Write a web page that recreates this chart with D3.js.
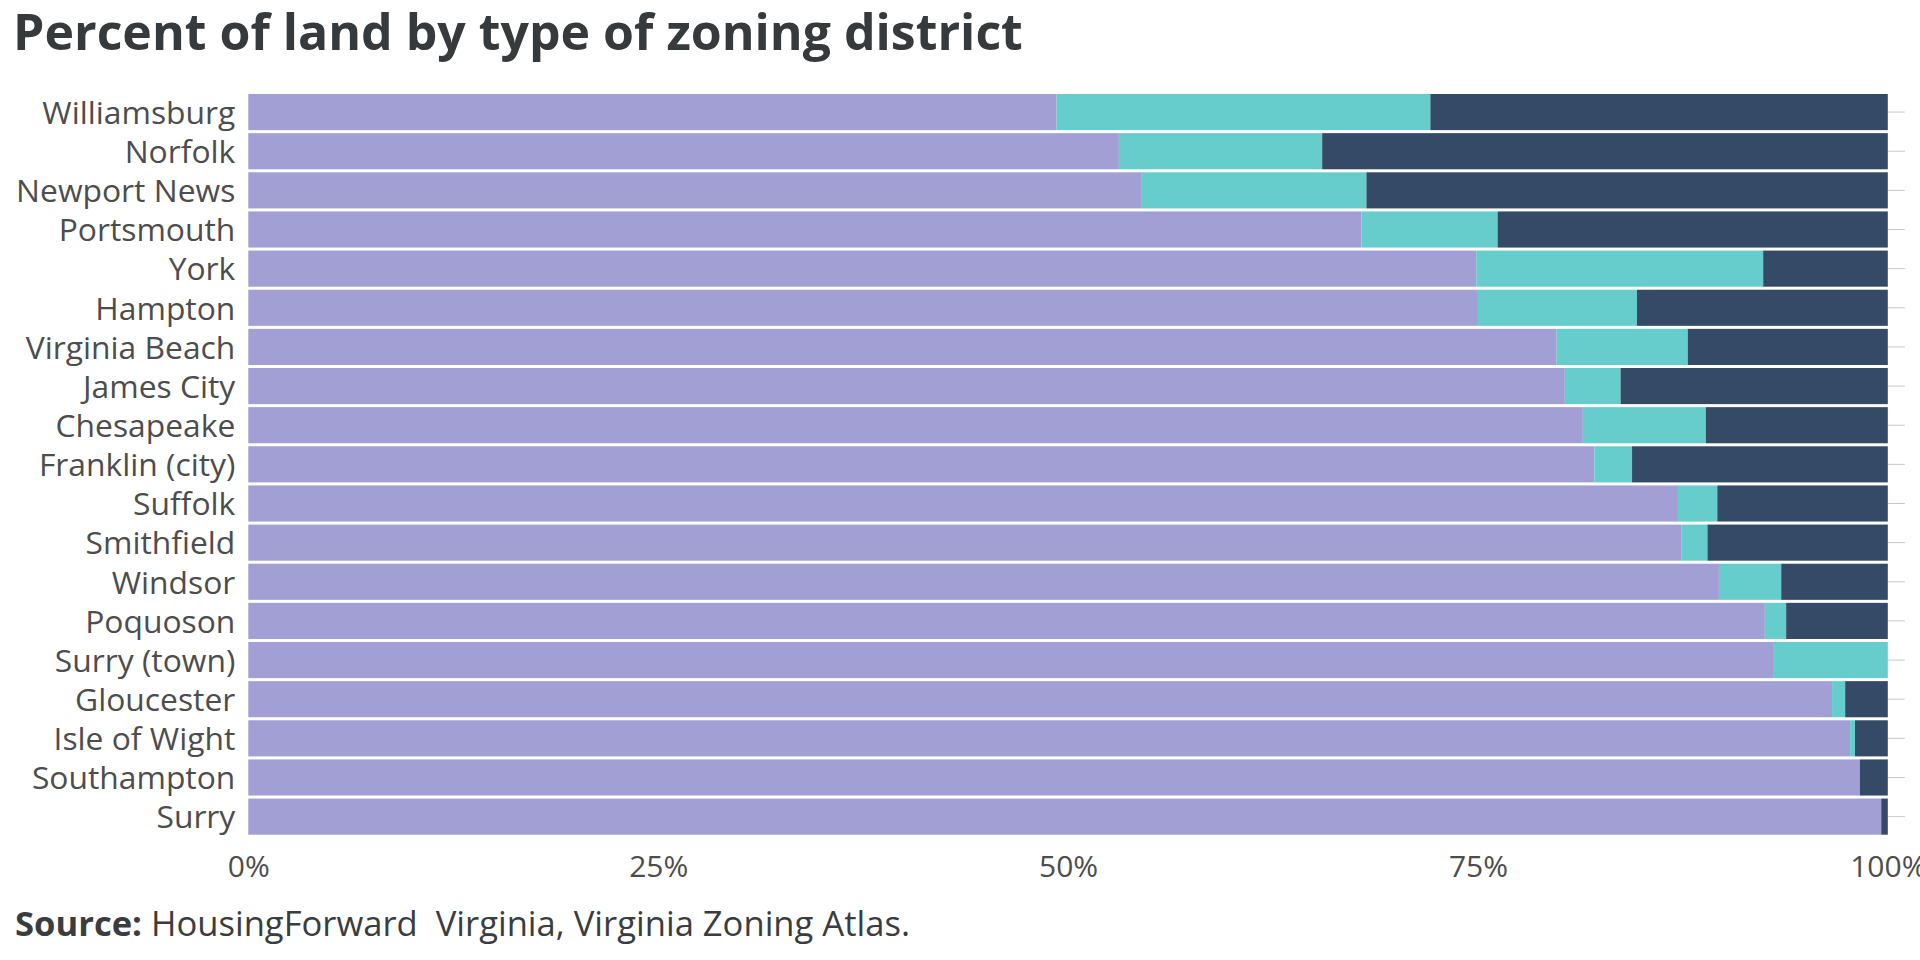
<!DOCTYPE html>
<html>
<head>
<meta charset="utf-8">
<script src="https://cdn.jsdelivr.net/npm/d3@7"></script>
<style>
  html, body { margin: 0; padding: 0; background: #ffffff; }
  svg { display: block; font-family: "Open Sans", "Noto Sans", sans-serif; }
</style>
</head>
<body>
<svg id="chart" width="1920" height="960"></svg>
<script>
// ---- data ----
const categories = ["Williamsburg", "Norfolk", "Newport News", "Portsmouth", "York", "Hampton",
  "Virginia Beach", "James City", "Chesapeake", "Franklin (city)", "Suffolk", "Smithfield",
  "Windsor", "Poquoson", "Surry (town)", "Gloucester", "Isle of Wight", "Southampton", "Surry"];
const seriesNames = ["Primarily residential", "Mixed with residential", "Nonresidential"];
const primarilyResidential = [49.3, 53.1, 54.5, 67.9, 74.9, 75.0, 79.8, 80.3, 81.4, 82.1, 87.2, 87.4, 89.7, 92.5, 93.0, 96.6, 97.7, 98.3, 99.6];
const mixedResidential     = [22.8, 12.4, 13.7,  8.3, 17.5,  9.7,  8.0,  3.4,  7.5,  2.3,  2.4,  1.6,  3.8,  1.3,  7.0,  0.8,  0.3,  0.0,  0.0];
const nonresidential       = [27.9, 34.5, 31.8, 23.8,  7.6, 15.3, 12.2, 16.3, 11.1, 15.6, 10.4, 11.0,  6.5,  6.2,  0.0,  2.6,  2.0,  1.7,  0.4];
const xTicks = [0, 25, 50, 75, 100];
const xTickLabels = ["0%", "25%", "50%", "75%", "100%"];
const seriesColors = ["#a29fd5", "#66cdcc", "#344a66"];
const titleText = "Percent of land by type of zoning district";

// ---- build table ----
const table = categories.map((c, i) => ({
  category: c,
  [seriesNames[0]]: primarilyResidential[i],
  [seriesNames[1]]: mixedResidential[i],
  [seriesNames[2]]: nonresidential[i]
}));

const svg = d3.select("#chart");
const margin = { left: 248.3, right: 1920 - 1887.8, top: 92.5, bottom: 960 - 836.2 };

const x = d3.scaleLinear().domain([0, 100]).range([margin.left, 1920 - margin.right]);
const y = d3.scaleBand().domain(categories).range([margin.top, 960 - margin.bottom])
  .paddingInner(0.077).paddingOuter(0.0385);
const color = d3.scaleOrdinal().domain(seriesNames).range(seriesColors);

const stacked = d3.stack().keys(seriesNames)(table);

// title
svg.append("text")
  .attr("x", 13).attr("y", 50)
  .attr("font-size", 50).attr("font-weight", 700)
  .attr("fill", "#363a3d")
  .text(titleText);

// right-side tick marks
const yRight = svg.append("g")
  .attr("transform", `translate(${x(100)},0)`)
  .call(d3.axisRight(y).tickSize(17).tickFormat(""));
yRight.select(".domain").remove();
yRight.selectAll(".tick line").attr("stroke", "#c8c8c8").attr("stroke-width", 1);

// bars
svg.append("g").selectAll("g")
  .data(stacked)
  .join("g")
  .attr("fill", d => color(d.key))
  .selectAll("rect")
  .data(d => d)
  .join("rect")
  .attr("x", d => x(d[0]))
  .attr("y", d => y(d.data.category))
  .attr("width", d => Math.max(0, x(d[1]) - x(d[0])))
  .attr("height", y.bandwidth());

// left axis (category labels)
const yAxis = svg.append("g")
  .attr("transform", `translate(${margin.left},0)`)
  .call(d3.axisLeft(y).tickSize(0).tickPadding(13));
yAxis.select(".domain").remove();
yAxis.selectAll("text")
  .attr("font-size", 31.8)
  .attr("font-family", "\"Open Sans\", sans-serif")
  .attr("fill", "#4d4d4d")
  .attr("dy", "0.37em");

// bottom axis
const xAxis = svg.append("g")
  .call(d3.axisBottom(x).tickValues(xTicks).tickSize(0)
    .tickFormat((d, i) => xTickLabels[i]));
xAxis.select(".domain").remove();
xAxis.selectAll("text")
  .attr("y", 877).attr("dy", 0)
  .attr("font-size", 30)
  .attr("font-family", "\"Open Sans\", sans-serif")
  .attr("fill", "#4d4d4d");

// source
const src = svg.append("text")
  .attr("x", 15).attr("y", 936)
  .attr("font-size", 34.6)
  .attr("fill", "#3a3d40")
  .style("white-space", "pre");
src.append("tspan").attr("font-weight", 700).text("Source:");
src.append("tspan").text(" HousingForward  Virginia, Virginia Zoning Atlas.");
</script>
</body>
</html>
